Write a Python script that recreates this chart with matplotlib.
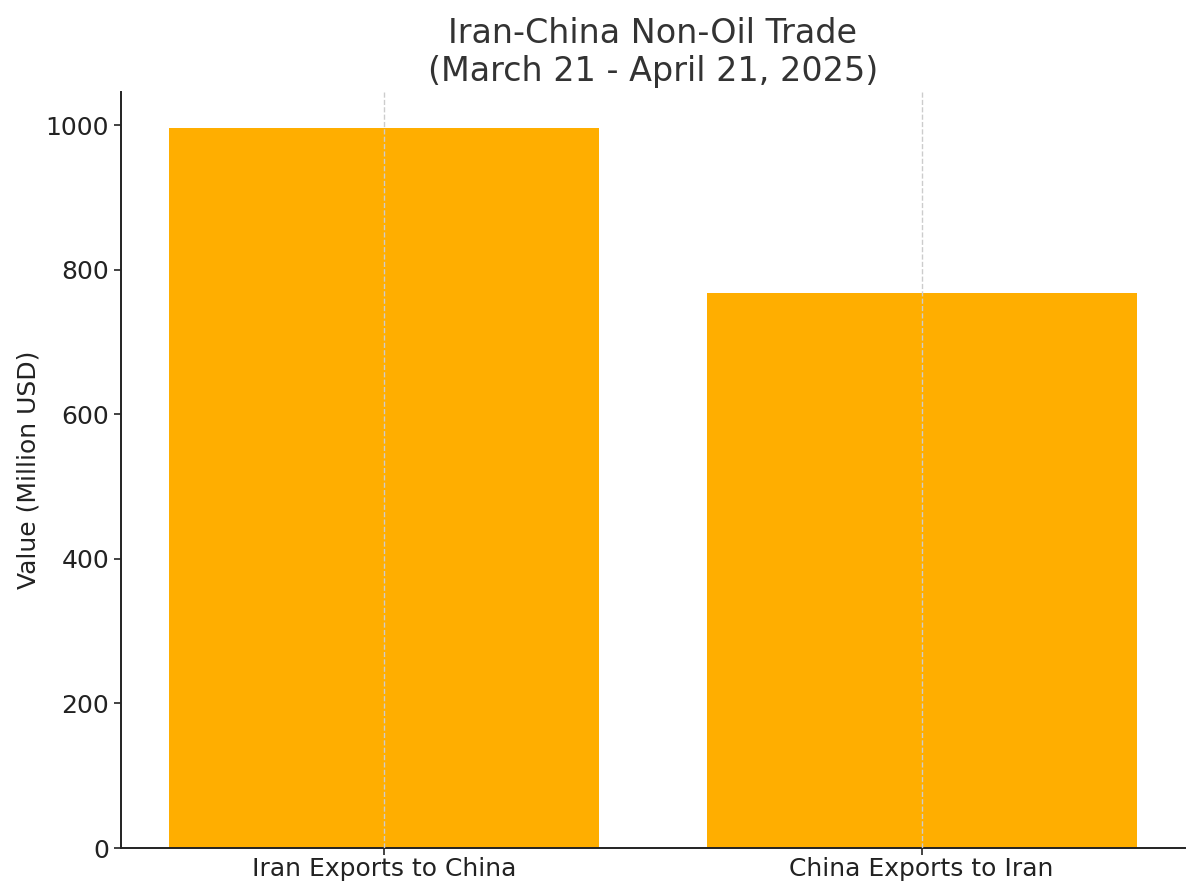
import matplotlib
matplotlib.use("Agg")
import matplotlib.pyplot as plt

categories = ["Iran Exports to China", "China Exports to Iran"]
values = [996, 768]

fig = plt.figure(figsize=(12, 8.96), dpi=100)
ax = fig.add_axes([121/1200, 1 - 848/896, (1185-121)/1200, (848-92)/896])
ax.bar(categories, values, width=0.8, color="#FFAE00")
ax.set_axisbelow(False)
ax.grid(axis="x", linestyle="--", color="#cccccc", linewidth=1.0)
ax.spines["top"].set_visible(False)
ax.spines["right"].set_visible(False)
for s in ("left", "bottom"):
    ax.spines[s].set_color("#222222")
    ax.spines[s].set_linewidth(1.4)
ax.tick_params(labelsize=18, colors="#222222", length=5, width=1.2)
ax.tick_params(axis="x", pad=1.5)
ax.set_ylabel("Value (Million USD)", fontsize=18, color="#222222", labelpad=4)
ax.set_title("Iran-China Non-Oil Trade\n(March 21 - April 21, 2025)", fontsize=24, color="#333333", pad=8)
fig.savefig("out.png", dpi=100)
